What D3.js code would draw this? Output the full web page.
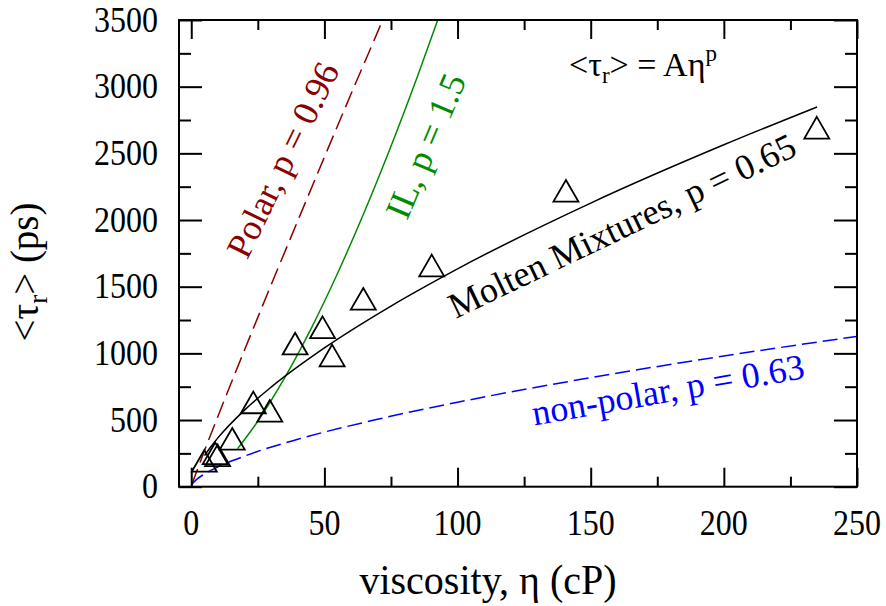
<!DOCTYPE html>
<html><head><meta charset="utf-8">
<script src="https://cdn.jsdelivr.net/npm/d3@7"></script>
<style>
html,body{margin:0;padding:0;background:#fff;}
</style>
</head><body>
<svg id="chart" width="886" height="606"></svg>
<script>
// ---- data ----
const obsEta = [4.9, 9.0, 9.9, 15.4, 23.3, 29.5, 39.0, 49.3, 52.9, 64.6, 90.3, 140.7, 234.9];
const obsTau = [167, 223, 208, 332, 605, 542, 1046, 1169, 957, 1382, 1632, 2192, 2665];

const polarEta = [0.2, 0.5, 2, 5, 10, 20, 30, 40, 50, 60, 70, 73];
const polarTau = [12, 30, 112, 271, 527, 1025, 1514, 1994, 2472, 2945, 3411, 3553];

const ilEta = [17.4, 25, 35, 45, 55, 65, 75, 85, 93];
const ilTau = [285, 491, 814, 1186, 1603, 2060, 2553, 3080, 3525];

const moltenEta = [5, 7, 10, 20, 30, 50, 75, 100, 150, 200, 235];
const moltenTau = [233, 290, 366, 574, 747, 1041, 1355, 1634, 2127, 2564, 2848];

const nonpolarEta = [0.2, 0.5, 1, 2, 5, 10, 20, 40, 70, 100, 150, 200, 250];
const nonpolarTau = [12.6, 22.5, 34.8, 53.8, 95.9, 148.5, 229.7, 355.5, 505.7, 633.4, 817.8, 980, 1127.5];

const xMajor = [0, 50, 100, 150, 200, 250];
const xMinor = [25, 75, 125, 175, 225];
const yMajor = [0, 500, 1000, 1500, 2000, 2500, 3000, 3500];
const yMinor = [250, 750, 1250, 1750, 2250, 2750, 3250];

// ---- drawing ----
const FONT = "Liberation Serif";
const svg = d3.select('#chart');
const L = 179, R = 857, T = 20, B = 486.7;
const x = d3.scaleLinear().domain([-4.6, 250]).range([L, R]);
const y = d3.scaleLinear().domain([0, 3500]).range([B, T]);

svg.append('rect').attr('width', 886).attr('height', 606).attr('fill', '#fff');
svg.append('defs').append('clipPath').attr('id', 'clip')
  .append('rect').attr('x', L).attr('y', T).attr('width', R - L).attr('height', B - T);

const plot = svg.append('g').attr('clip-path', 'url(#clip)');
const line = d3.line().x(d => x(d[0])).y(d => y(d[1])).curve(d3.curveMonotoneX);

function curve(etas, taus, color, dash) {
  plot.append('path').datum(d3.zip(etas, taus))
    .attr('d', line).attr('fill', 'none').attr('stroke', color)
    .attr('stroke-width', 1.5).attr('stroke-dasharray', dash || null);
}
curve(polarEta, polarTau, '#8b0000', '17,7');
curve(ilEta, ilTau, '#008b00');
curve(moltenEta, moltenTau, '#000');
curve(nonpolarEta, nonpolarTau, '#0000ff', '15,6');

const tri = d3.symbol(d3.symbolTriangle, 270);
plot.selectAll('path.pt').data(d3.zip(obsEta, obsTau)).join('path')
  .attr('class', 'pt').attr('d', tri)
  .attr('transform', d => `translate(${x(d[0])},${y(d[1])})`)
  .attr('fill', 'none').attr('stroke', '#000').attr('stroke-width', 1.8);

// ticks on all four sides, pointing inward
function ticks(gen, tr) {
  svg.append('g').attr('transform', tr).call(gen).call(g => {
    g.select('.domain').remove();
    g.selectAll('text').remove();
    g.selectAll('line').attr('stroke', '#000').attr('stroke-width', 2);
  });
}
ticks(d3.axisBottom(x).tickValues(xMajor).tickSize(-19).tickSizeOuter(0), `translate(0,${B})`);
ticks(d3.axisBottom(x).tickValues(xMinor).tickSize(-10).tickSizeOuter(0), `translate(0,${B})`);
ticks(d3.axisTop(x).tickValues(xMajor).tickSize(-19).tickSizeOuter(0), `translate(0,${T})`);
ticks(d3.axisTop(x).tickValues(xMinor).tickSize(-10).tickSizeOuter(0), `translate(0,${T})`);
ticks(d3.axisLeft(y).tickValues(yMajor).tickSize(-23).tickSizeOuter(0), `translate(${L},0)`);
ticks(d3.axisLeft(y).tickValues(yMinor).tickSize(-12).tickSizeOuter(0), `translate(${L},0)`);
ticks(d3.axisRight(y).tickValues(yMajor).tickSize(-23).tickSizeOuter(0), `translate(${R},0)`);
ticks(d3.axisRight(y).tickValues(yMinor).tickSize(-12).tickSizeOuter(0), `translate(${R},0)`);

svg.append('rect').attr('x', L).attr('y', T).attr('width', R - L).attr('height', B - T)
  .attr('fill', 'none').attr('stroke', '#000').attr('stroke-width', 2);

function label(px, py, angleDeg, size, color, anchor, sy) {
  const g = svg.append('g').attr('transform', `translate(${px},${py}) scale(1,${sy || 1}) rotate(${angleDeg})`);
  return g.append('text').attr('x', 0).attr('y', 0)
    .attr('font-family', FONT)
    .attr('font-size', size).attr('fill', color).attr('text-anchor', anchor || 'middle');
}

xMajor.forEach(v => label(x(v), 535, 0, 32, '#000', 'middle', 1.1).text(v));
yMajor.forEach(v => label(158, y(v) + 11.5, 0, 32, '#000', 'end', 1.1).text(v));

label(488, 594, 0, 40, '#000', 'middle', 1.05).text('viscosity, η (cP)');

const yt = label(38, 272, -90, 39, '#000');
yt.append('tspan').text('<τ');
yt.append('tspan').attr('font-size', 27).attr('dy', 9).text('r');
yt.append('tspan').attr('dy', -9).text('> (ps)');

const eq = label(643, 76, 0, 34, '#000');
eq.append('tspan').text('<τ');
eq.append('tspan').attr('font-size', 23).attr('dy', 7).text('r');
eq.append('tspan').attr('dy', -7).text('> = Aη');
eq.append('tspan').attr('font-size', 23).attr('dy', -15).text('p');

label(283, 160, -64, 36, '#8b0000').attr('dy', '0.33em').text('Polar, p = 0.96');
label(426, 146, -67, 36, '#008b00').attr('dy', '0.33em').text('IL, p = 1.5');
label(622, 226, -25.6, 36, '#000').attr('dy', '0.33em').text('Molten Mixtures, p = 0.65');
label(668, 390, -9.9, 36, '#0000ff').attr('dy', '0.33em').text('non-polar, p = 0.63');
</script>
</body></html>
